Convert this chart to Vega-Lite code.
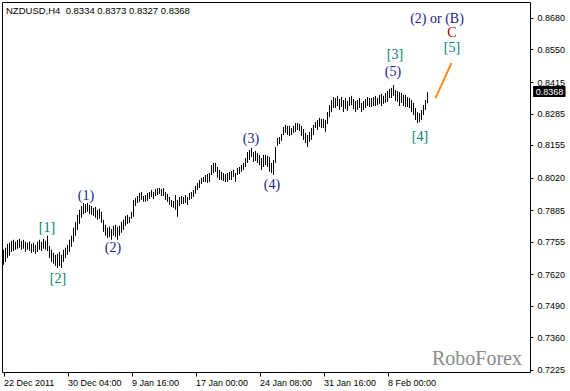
{
  "$schema": "https://vega.github.io/schema/vega-lite/v6.json",
  "width": 528,
  "height": 370,
  "autosize": "none",
  "padding": {"left": 2, "top": 2, "right": 40, "bottom": 19},
  "background": "white",
  "config": {
    "view": {"stroke": "black", "strokeWidth": 1},
    "axis": {"labelFont": "Liberation Sans", "labelFontSize": 9, "labelColor": "black", "tickColor": "black", "domain": false, "grid": false}
  },
  "datasets": {
    "bars": [
      {"i":0,"h":0.7722,"l":0.7660},{"i":1,"h":0.7730,"l":0.7672},{"i":2,"h":0.7746,"l":0.7688},{"i":3,"h":0.7751,"l":0.7697},
      {"i":4,"h":0.7759,"l":0.7713},{"i":5,"h":0.7763,"l":0.7717},{"i":6,"h":0.7755,"l":0.7722},{"i":7,"h":0.7763,"l":0.7726},
      {"i":8,"h":0.7767,"l":0.7730},{"i":9,"h":0.7759,"l":0.7722},{"i":10,"h":0.7763,"l":0.7726},{"i":11,"h":0.7755,"l":0.7713},
      {"i":12,"h":0.7751,"l":0.7722},{"i":13,"h":0.7755,"l":0.7717},{"i":14,"h":0.7746,"l":0.7709},{"i":15,"h":0.7751,"l":0.7713},
      {"i":16,"h":0.7742,"l":0.7705},{"i":17,"h":0.7755,"l":0.7713},{"i":18,"h":0.7763,"l":0.7722},{"i":19,"h":0.7755,"l":0.7717},
      {"i":20,"h":0.7767,"l":0.7726},{"i":21,"h":0.7759,"l":0.7722},{"i":22,"h":0.7780,"l":0.7717},{"i":23,"h":0.7738,"l":0.7688},
      {"i":24,"h":0.7722,"l":0.7672},{"i":25,"h":0.7709,"l":0.7664},{"i":26,"h":0.7701,"l":0.7655},{"i":27,"h":0.7705,"l":0.7647},
      {"i":28,"h":0.7713,"l":0.7655},{"i":29,"h":0.7701,"l":0.7647},{"i":30,"h":0.7722,"l":0.7672},{"i":31,"h":0.7730,"l":0.7688},
      {"i":32,"h":0.7742,"l":0.7701},{"i":33,"h":0.7763,"l":0.7713},{"i":34,"h":0.7780,"l":0.7734},{"i":35,"h":0.7813,"l":0.7755},
      {"i":36,"h":0.7837,"l":0.7780},{"i":37,"h":0.7866,"l":0.7804},{"i":38,"h":0.7887,"l":0.7829},{"i":39,"h":0.7903,"l":0.7854},
      {"i":40,"h":0.7915,"l":0.7870},{"i":41,"h":0.7911,"l":0.7874},{"i":42,"h":0.7915,"l":0.7879},{"i":43,"h":0.7907,"l":0.7870},
      {"i":44,"h":0.7903,"l":0.7866},{"i":45,"h":0.7895,"l":0.7862},{"i":46,"h":0.7899,"l":0.7854},{"i":47,"h":0.7887,"l":0.7846},
      {"i":48,"h":0.7891,"l":0.7850},{"i":49,"h":0.7879,"l":0.7833},{"i":50,"h":0.7846,"l":0.7796},{"i":51,"h":0.7825,"l":0.7780},
      {"i":52,"h":0.7813,"l":0.7771},{"i":53,"h":0.7817,"l":0.7775},{"i":54,"h":0.7808,"l":0.7763},{"i":55,"h":0.7821,"l":0.7780},
      {"i":56,"h":0.7825,"l":0.7775},{"i":57,"h":0.7817,"l":0.7763},{"i":58,"h":0.7821,"l":0.7780},{"i":59,"h":0.7837,"l":0.7792},
      {"i":60,"h":0.7846,"l":0.7804},{"i":61,"h":0.7862,"l":0.7821},{"i":62,"h":0.7866,"l":0.7829},{"i":63,"h":0.7858,"l":0.7833},
      {"i":64,"h":0.7879,"l":0.7850},{"i":65,"h":0.7928,"l":0.7858},{"i":66,"h":0.7936,"l":0.7903},{"i":67,"h":0.7944,"l":0.7915},
      {"i":68,"h":0.7957,"l":0.7920},{"i":69,"h":0.7961,"l":0.7928},{"i":70,"h":0.7944,"l":0.7920},{"i":71,"h":0.7948,"l":0.7920},
      {"i":72,"h":0.7957,"l":0.7924},{"i":73,"h":0.7961,"l":0.7932},{"i":74,"h":0.7969,"l":0.7940},{"i":75,"h":0.7961,"l":0.7932},
      {"i":76,"h":0.7973,"l":0.7944},{"i":77,"h":0.7977,"l":0.7948},{"i":78,"h":0.7977,"l":0.7953},{"i":79,"h":0.7973,"l":0.7944},
      {"i":80,"h":0.7977,"l":0.7944},{"i":81,"h":0.7961,"l":0.7928},{"i":82,"h":0.7953,"l":0.7920},{"i":83,"h":0.7940,"l":0.7907},
      {"i":84,"h":0.7928,"l":0.7899},{"i":85,"h":0.7924,"l":0.7895},{"i":86,"h":0.7948,"l":0.7887},{"i":87,"h":0.7928,"l":0.7858},
      {"i":88,"h":0.7940,"l":0.7903},{"i":89,"h":0.7944,"l":0.7911},{"i":90,"h":0.7940,"l":0.7911},{"i":91,"h":0.7948,"l":0.7915},
      {"i":92,"h":0.7940,"l":0.7907},{"i":93,"h":0.7957,"l":0.7928},{"i":94,"h":0.7961,"l":0.7932},{"i":95,"h":0.7969,"l":0.7940},
      {"i":96,"h":0.7986,"l":0.7953},{"i":97,"h":0.7998,"l":0.7969},{"i":98,"h":0.8010,"l":0.7977},{"i":99,"h":0.8019,"l":0.7994},
      {"i":100,"h":0.8023,"l":0.8002},{"i":101,"h":0.8031,"l":0.8002},{"i":102,"h":0.8035,"l":0.7998},{"i":103,"h":0.8039,"l":0.8002},
      {"i":104,"h":0.8072,"l":0.8031},{"i":105,"h":0.8081,"l":0.8039},{"i":106,"h":0.8081,"l":0.8044},{"i":107,"h":0.8064,"l":0.8019},
      {"i":108,"h":0.8052,"l":0.8010},{"i":109,"h":0.8044,"l":0.8010},{"i":110,"h":0.8039,"l":0.8006},{"i":111,"h":0.8035,"l":0.8002},
      {"i":112,"h":0.8039,"l":0.8002},{"i":113,"h":0.8044,"l":0.8010},{"i":114,"h":0.8048,"l":0.8010},{"i":115,"h":0.8052,"l":0.8023},
      {"i":116,"h":0.8039,"l":0.8002},{"i":117,"h":0.8060,"l":0.8031},{"i":118,"h":0.8064,"l":0.8035},{"i":119,"h":0.8072,"l":0.8044},
      {"i":120,"h":0.8081,"l":0.8052},{"i":121,"h":0.8101,"l":0.8064},{"i":122,"h":0.8126,"l":0.8081},{"i":123,"h":0.8134,"l":0.8093},
      {"i":124,"h":0.8143,"l":0.8105},{"i":125,"h":0.8126,"l":0.8085},{"i":126,"h":0.8130,"l":0.8089},{"i":127,"h":0.8122,"l":0.8081},
      {"i":128,"h":0.8114,"l":0.8072},{"i":129,"h":0.8101,"l":0.8052},{"i":130,"h":0.8114,"l":0.8064},{"i":131,"h":0.8114,"l":0.8072},
      {"i":132,"h":0.8110,"l":0.8064},{"i":133,"h":0.8105,"l":0.8044},{"i":134,"h":0.8081,"l":0.8039},{"i":135,"h":0.8093,"l":0.8031},
      {"i":136,"h":0.8147,"l":0.8081},{"i":137,"h":0.8184,"l":0.8151},{"i":138,"h":0.8188,"l":0.8159},{"i":139,"h":0.8201,"l":0.8172},
      {"i":140,"h":0.8230,"l":0.8196},{"i":141,"h":0.8238,"l":0.8205},{"i":142,"h":0.8234,"l":0.8196},{"i":143,"h":0.8234,"l":0.8192},
      {"i":144,"h":0.8225,"l":0.8196},{"i":145,"h":0.8234,"l":0.8205},{"i":146,"h":0.8246,"l":0.8209},{"i":147,"h":0.8246,"l":0.8217},
      {"i":148,"h":0.8242,"l":0.8213},{"i":149,"h":0.8234,"l":0.8192},{"i":150,"h":0.8221,"l":0.8176},{"i":151,"h":0.8205,"l":0.8163},
      {"i":152,"h":0.8196,"l":0.8147},{"i":153,"h":0.8209,"l":0.8168},{"i":154,"h":0.8225,"l":0.8176},{"i":155,"h":0.8238,"l":0.8196},
      {"i":156,"h":0.8250,"l":0.8225},{"i":157,"h":0.8258,"l":0.8217},{"i":158,"h":0.8267,"l":0.8230},{"i":159,"h":0.8263,"l":0.8225},
      {"i":160,"h":0.8263,"l":0.8225},{"i":161,"h":0.8258,"l":0.8209},{"i":162,"h":0.8291,"l":0.8242},{"i":163,"h":0.8320,"l":0.8271},
      {"i":164,"h":0.8341,"l":0.8291},{"i":165,"h":0.8353,"l":0.8308},{"i":166,"h":0.8349,"l":0.8308},{"i":167,"h":0.8358,"l":0.8316},
      {"i":168,"h":0.8345,"l":0.8300},{"i":169,"h":0.8353,"l":0.8312},{"i":170,"h":0.8341,"l":0.8291},{"i":171,"h":0.8349,"l":0.8304},
      {"i":172,"h":0.8337,"l":0.8296},{"i":173,"h":0.8353,"l":0.8316},{"i":174,"h":0.8358,"l":0.8320},{"i":175,"h":0.8345,"l":0.8304},
      {"i":176,"h":0.8337,"l":0.8291},{"i":177,"h":0.8341,"l":0.8300},{"i":178,"h":0.8349,"l":0.8308},{"i":179,"h":0.8329,"l":0.8291},
      {"i":180,"h":0.8337,"l":0.8300},{"i":181,"h":0.8345,"l":0.8308},{"i":182,"h":0.8353,"l":0.8316},{"i":183,"h":0.8349,"l":0.8312},
      {"i":184,"h":0.8349,"l":0.8312},{"i":185,"h":0.8353,"l":0.8316},{"i":186,"h":0.8358,"l":0.8316},{"i":187,"h":0.8349,"l":0.8320},
      {"i":188,"h":0.8362,"l":0.8325},{"i":189,"h":0.8366,"l":0.8316},{"i":190,"h":0.8358,"l":0.8325},{"i":191,"h":0.8370,"l":0.8329},
      {"i":192,"h":0.8378,"l":0.8333},{"i":193,"h":0.8387,"l":0.8349},{"i":194,"h":0.8391,"l":0.8349},{"i":195,"h":0.8403,"l":0.8358},
      {"i":196,"h":0.8382,"l":0.8337},{"i":197,"h":0.8378,"l":0.8333},{"i":198,"h":0.8374,"l":0.8316},{"i":199,"h":0.8370,"l":0.8329},
      {"i":200,"h":0.8362,"l":0.8316},{"i":201,"h":0.8362,"l":0.8312},{"i":202,"h":0.8353,"l":0.8312},{"i":203,"h":0.8349,"l":0.8308},
      {"i":204,"h":0.8341,"l":0.8291},{"i":205,"h":0.8329,"l":0.8279},{"i":206,"h":0.8308,"l":0.8258},{"i":207,"h":0.8291,"l":0.8246},
      {"i":208,"h":0.8287,"l":0.8250},{"i":209,"h":0.8300,"l":0.8258},{"i":210,"h":0.8320,"l":0.8279},{"i":211,"h":0.8341,"l":0.8300},
      {"i":212,"h":0.8373,"l":0.8327}
    ],
    "labels": [
      {"i":21.75,"l":0.7813,"t":"[1]","g":"major"},
      {"i":27.25,"l":0.7601,"t":"[2]","g":"major"},
      {"i":41.25,"l":0.7944,"t":"(1)","g":"minor"},
      {"i":54.75,"l":0.7730,"t":"(2)","g":"minor"},
      {"i":123.75,"l":0.8180,"t":"(3)","g":"minor"},
      {"i":134.25,"l":0.7990,"t":"(4)","g":"minor"},
      {"i":194.75,"l":0.8457,"t":"(5)","g":"minor"},
      {"i":195.75,"l":0.8527,"t":"[3]","g":"major"},
      {"i":208.25,"l":0.8188,"t":"[4]","g":"major"},
      {"i":216.75,"l":0.8676,"t":"(2) or (B)","g":"minor"},
      {"i":224.25,"l":0.8618,"t":"C","g":"top"},
      {"i":224.25,"l":0.8556,"t":"[5]","g":"major"}
    ]
  },
  "encoding": {
    "x": {"field": "i", "type": "quantitative",
          "scale": {"domain": [-0.75, 263.25], "nice": false, "zero": false},
          "axis": {"title": null, "values": [0, 32, 64, 96, 128, 160, 192], "tickSize": 4, "labelAlign": "left", "labelBaseline": "top", "labelPadding": 2, "labelFlush": false, "labelOverlap": false,
                   "labelExpr": "datum.value < 16 ? '22 Dec 2011' : datum.value < 48 ? '30 Dec 04:00' : datum.value < 80 ? '9 Jan 16:00' : datum.value < 112 ? '17 Jan 00:00' : datum.value < 144 ? '24 Jan 08:00' : datum.value < 176 ? '31 Jan 16:00' : '8 Feb 00:00'"}},
    "y": {"field": "l", "type": "quantitative",
          "scale": {"domain": [0.72166, 0.8746], "nice": false, "zero": false},
          "axis": {"title": null, "orient": "right", "values": [0.8680, 0.8550, 0.8415, 0.8285, 0.8155, 0.8020, 0.7885, 0.7755, 0.7620, 0.7490, 0.7360, 0.7225], "format": ".4f", "tickSize": 3, "labelPadding": 4, "labelBaseline": "middle", "labelFlush": false, "labelOverlap": false}}
  },
  "layer": [
    {
      "data": {"name": "bars"},
      "mark": {"type": "rule", "color": "black", "strokeWidth": 1},
      "encoding": {"y2": {"field": "h"}}
    },
    {
      "data": {"values": [{"i": 216, "l": 0.8349}, {"i": 224, "l": 0.8494}]},
      "mark": {"type": "line", "color": "#ff8c1a", "strokeWidth": 2},
      "encoding": {}
    },
    {
      "data": {"name": "labels"},
      "mark": {"type": "text", "font": "Liberation Serif", "fontSize": 14, "align": "center", "baseline": "middle"},
      "encoding": {
        "text": {"field": "t"},
        "color": {"field": "g", "type": "nominal", "scale": {"domain": ["major", "minor", "top"], "range": ["#008070", "#22228c", "#a00000"]}, "legend": null}
      }
    },
    {
      "data": {"values": [{"i": 1.25, "l": 0.8707, "t": "NZDUSD,H4\u00a0 0.8334 0.8373 0.8327 0.8368"}]},
      "mark": {"type": "text", "font": "Liberation Sans", "fontSize": 9.5, "align": "left", "baseline": "middle", "color": "black"},
      "encoding": {"text": {"field": "t"}}
    },
    {
      "data": {"values": [{"i": 259.25, "l": 0.7270, "t": "RoboForex"}]},
      "mark": {"type": "text", "font": "Liberation Serif", "fontSize": 20, "align": "right", "baseline": "middle", "color": "#8a8a8a"},
      "encoding": {"text": {"field": "t"}}
    },
    {
      "data": {"values": [{"i": 264.8, "b": 281, "l": 0.8353, "h": 0.8399}]},
      "mark": {"type": "rect", "color": "black", "clip": false},
      "encoding": {"x2": {"field": "b"}, "y2": {"field": "h"}}
    },
    {
      "data": {"values": [{"i": 273, "l": 0.8376, "t": "0.8368"}]},
      "mark": {"type": "text", "font": "Liberation Sans", "fontSize": 9, "align": "center", "baseline": "middle", "color": "white"},
      "encoding": {"text": {"field": "t"}}
    }
  ]
}
